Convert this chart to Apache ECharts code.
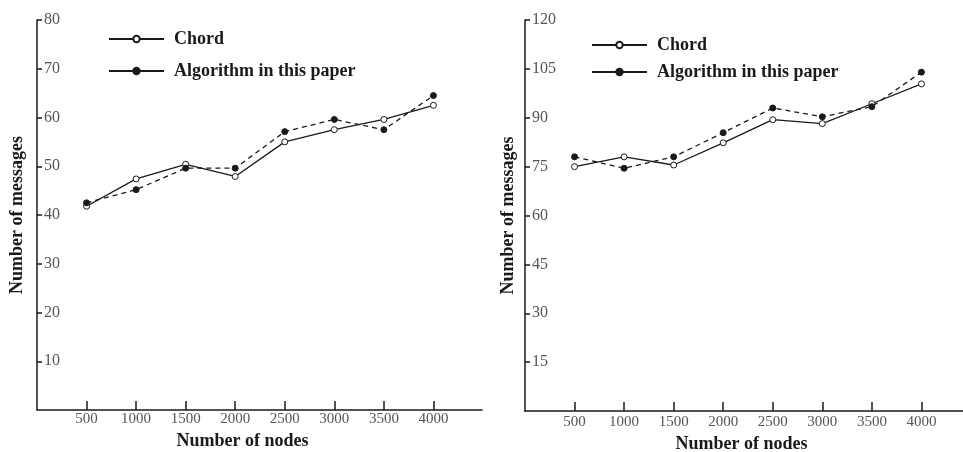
<!DOCTYPE html>
<html>
<head>
<meta charset="utf-8">
<script src="https://cdn.jsdelivr.net/npm/echarts@6/dist/echarts.min.js"></script>
<style>
	html,body{margin:0;padding:0;background:#fff;}
	#main{width:963px;height:452px;}
</style>
</head>
<body>
<div id="main"></div>
<script>
	// x 轴节点数
	var nodes = [500, 1000, 1500, 2000, 2500, 3000, 3500, 4000];
	// 左图
	var chordLeft = [41.8, 47.4, 50.4, 47.9, 55.0, 57.5, 59.6, 62.5];
	var algoLeft = [42.5, 45.2, 49.6, 49.6, 57.1, 59.6, 57.5, 64.5];
	// 右图
	var chordRight = [75.0, 78.0, 75.5, 82.3, 89.4, 88.2, 94.3, 100.4];
	var algoRight = [78.0, 74.5, 78.0, 85.4, 93.0, 90.3, 93.4, 104.0];
	// y 轴刻度
	var ticksLeft = [10, 20, 30, 40, 50, 60, 70, 80];
	var ticksRight = [15, 30, 45, 60, 75, 90, 105, 120];

	var serif = 'Liberation Serif';
	var ink = '#1a1a1a';

	function pairs(vals){
		return nodes.map(function(n, i){ return [n, vals[i]]; });
	}

	function xAxisOf(idx, namePad, labelGap, nameGap){
		return {
			type: 'value', gridIndex: idx, min: 0, max: 4490,
			name: 'Number of nodes', nameLocation: 'middle', nameGap: nameGap,
			nameTextStyle: {fontFamily: serif, fontWeight: 'bold', fontSize: 18, color: ink, padding: namePad},
			axisLine: {onZero: false, lineStyle: {color: ink, width: 1.5}},
			axisTick: {show: true, inside: true, length: 9, customValues: nodes, lineStyle: {color: ink, width: 1.5}},
			axisLabel: {
				margin: labelGap, customValues: nodes, fontFamily: serif, fontSize: 15, color: '#555',
				formatter: function(v){ return String(v); }
			},
			splitLine: {show: false}
		};
	}

	function yAxisOf(idx, max, ticks, gap){
		return {
			type: 'value', gridIndex: idx, min: 0, max: max,
			name: 'Number of messages', nameLocation: 'middle', nameGap: gap,
			nameTextStyle: {fontFamily: serif, fontWeight: 'bold', fontSize: 18, color: ink},
			axisLine: {show: true, onZero: false, lineStyle: {color: ink, width: 1.5}},
			axisTick: {show: true, inside: true, length: 5, customValues: ticks, lineStyle: {color: ink, width: 1.5}},
			axisLabel: {
				inside: true, margin: 7, customValues: ticks, fontFamily: serif, fontSize: 16, color: '#555',
				formatter: function(v){ return String(v); }
			},
			splitLine: {show: false}
		};
	}

	function lineSeries(name, vals, idx, filled, dashed){
		return {
			name: name, type: 'line', xAxisIndex: idx, yAxisIndex: idx,
			data: pairs(vals),
			symbol: 'circle', symbolSize: 6,
			itemStyle: {color: filled ? ink : '#fff', borderColor: ink, borderWidth: 1},
			lineStyle: {color: ink, width: 1.3, type: dashed ? [5, 4] : 'solid'},
			animation: false
		};
	}

	function legendOf(left, top, gap){
		return {
			orient: 'vertical', left: left, top: top, itemGap: gap,
			itemWidth: 55, itemHeight: 8,
			lineStyle: {type: 'solid'},
			textStyle: {fontFamily: serif, fontWeight: 'bold', fontSize: 18, color: ink, padding: [0, 0, 0, 5]},
			data: ['Chord', 'Algorithm in this paper'],
			selectedMode: false
		};
	}

	var myChart = echarts.init(document.getElementById('main'));
	var option = {
		backgroundColor: '#fff',
		grid: [
			{left: 37, top: 20, width: 445, bottom: 42, outerBoundsMode: 'none'},
			{left: 525, top: 20, width: 445, bottom: 41, outerBoundsMode: 'none'}
		],
		legend: [legendOf(103, 25, 14), legendOf(586, 31, 9)],
		xAxis: [xAxisOf(0, [0, 34, 0, 0], 2, 15), xAxisOf(1, [0, 12, 0, 0], 4, 18)],
		yAxis: [yAxisOf(0, 80, ticksLeft, 11), yAxisOf(1, 120, ticksRight, 8)],
		series: [
			lineSeries('Chord', chordLeft, 0, false, false),
			lineSeries('Algorithm in this paper', algoLeft, 0, true, true),
			lineSeries('Chord', chordRight, 1, false, false),
			lineSeries('Algorithm in this paper', algoRight, 1, true, true)
		]
	};
	myChart.setOption(option);
</script>
</body>
</html>
